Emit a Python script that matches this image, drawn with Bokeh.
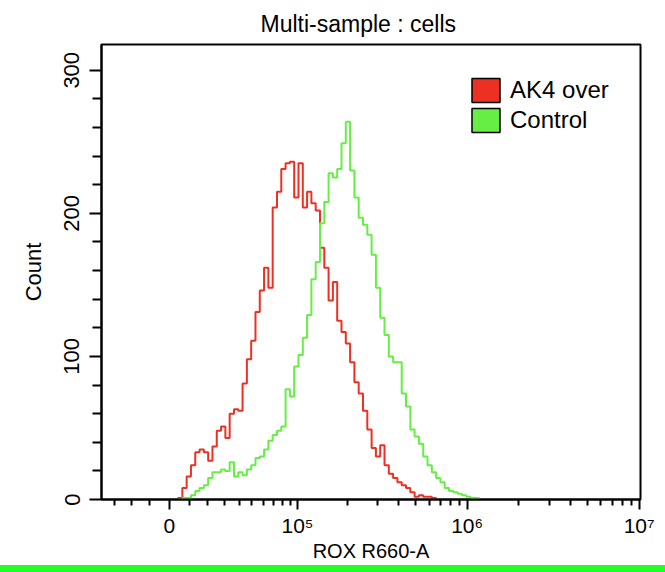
import numpy as np
from bokeh.plotting import figure
from bokeh.layouts import column
from bokeh.models import Range1d, FixedTicker, Legend, LegendItem, Title
from bokeh.embed import file_html
from bokeh.resources import INLINE

# ---------------- data ----------------
title_text = "Multi-sample : cells"
x_label_text = "ROX R660-A"
y_label_text = "Count"
series_names = ["AK4 over", "Control"]
series_colors = ["#ec3024", "#66ee44"]

# histogram bins, evenly spaced in the biexponential display scale
bin_start = 0.05
bin_width = 0.025
ak4_counts = [1, 8, 16, 24, 33, 35, 33, 27, 37, 48, 51, 43, 60, 63, 62, 81, 98, 111, 131, 146,
              162, 148, 204, 215, 231, 235, 236, 211, 235, 204, 215, 207, 202, 176, 162, 139, 152, 125, 117, 109,
              96, 82, 74, 62, 49, 36, 30, 38, 24, 18, 15, 12, 10, 8, 5, 2, 3, 2, 2, 1]
control_counts = [0, 1, 1, 3, 6, 8, 10, 15, 19, 19, 21, 20, 26, 16, 19, 17, 21, 24, 29, 30,
                  35, 41, 45, 48, 51, 77, 72, 93, 101, 113, 129, 154, 166, 193, 208, 228, 225, 231, 249, 264,
                  230, 211, 197, 192, 185, 171, 148, 127, 115, 100, 96, 96, 74, 65, 49, 44, 39, 30, 24, 19,
                  15, 12, 8, 6, 5, 4, 3, 2, 1, 1]

x_major_values = [0, 1e5, 1e6, 1e7]
x_major_labels = ["0", "10\u2075", "10\u2076", "10\u2077"]
x_minor_values = ([-k * 1e4 for k in range(1, 4)] + [k * 1e4 for k in range(1, 10)]
                  + [k * 1e5 for k in range(2, 10)] + [k * 1e6 for k in range(2, 10)])
y_major_values = [0, 100, 200, 300]
y_minor_values = [v for v in range(20, 320, 20) if v % 100 != 0]

x_limits = (-0.395, 2.738)
y_limits = (0, 318)

WIDTH_BASIS = 18615.0


def biex(v):
    return float(np.round(np.arcsinh(np.asarray(v) / (2 * WIDTH_BASIS)) / np.log(10), 6))


def step_xy(counts):
    edges = bin_start + bin_width * np.arange(len(counts) + 1)
    xs = np.concatenate([[edges[0]], edges])
    ys = np.concatenate([[0], counts, [0]])
    return xs, ys


FONT = "Liberation Sans"

p = figure(width=665, height=565, output_backend="svg", toolbar_location=None,
           x_range=Range1d(*x_limits), y_range=Range1d(*y_limits),
           min_border_left=101, min_border_right=25, min_border_top=40, min_border_bottom=66)
p.background_fill_color = "white"
p.border_fill_color = "white"
p.outline_line_color = "black"
p.outline_line_width = 2
p.xgrid.visible = False
p.ygrid.visible = False

# curves
for counts, color in zip([ak4_counts, control_counts], series_colors):
    xs, ys = step_xy(counts)
    p.step(xs, ys, mode="after", line_color=color, line_width=2)

# legend swatches (dummy, invisible renderers)
legend_items = []
for name, color in zip(series_names, series_colors):
    r = p.quad(left=[np.nan], right=[np.nan], top=[np.nan], bottom=[np.nan], fill_color=color,
               line_color="black", line_width=1.5)
    legend_items.append(LegendItem(label=name, renderers=[r]))

legend = Legend(items=legend_items, location=(367, 364), orientation="vertical",
                glyph_width=35, glyph_height=30, label_height=30, label_standoff=7,
                spacing=0, padding=0, margin=0, border_line_alpha=0,
                background_fill_alpha=0, label_text_font_size="24px",
                label_text_font=FONT, label_text_color="black")
p.add_layout(legend)

# x axis
xt = [biex(v) for v in x_major_values]
p.xaxis.ticker = FixedTicker(ticks=xt, minor_ticks=[biex(v) for v in x_minor_values])
p.xaxis.major_label_overrides = {t: lab for t, lab in zip(xt, x_major_labels)}
p.xaxis.major_tick_out = 10
p.xaxis.major_tick_in = 0
p.xaxis.minor_tick_out = 6
p.xaxis.minor_tick_in = 0
p.xaxis.major_label_standoff = 4
p.xaxis.major_label_text_font_size = "21px"
p.xaxis.axis_label = x_label_text
p.xaxis.axis_label_standoff = 0
p.xaxis.axis_label_text_font_size = "20px"

# y axis
p.yaxis.ticker = FixedTicker(ticks=y_major_values, minor_ticks=y_minor_values)
p.yaxis.major_tick_out = 12
p.yaxis.major_tick_in = 0
p.yaxis.minor_tick_out = 9
p.yaxis.minor_tick_in = 0
p.yaxis.major_label_orientation = "vertical"
p.yaxis.major_label_standoff = 10
p.yaxis.major_label_text_font_size = "22px"
p.yaxis.axis_label = y_label_text
p.yaxis.axis_label_standoff = 16
p.yaxis.axis_label_text_font_size = "22px"

for ax in [p.xaxis, p.yaxis]:
    ax.axis_line_width = 2
    ax.axis_line_color = "black"
    ax.major_tick_line_width = 2
    ax.minor_tick_line_width = 2
    ax.major_tick_line_color = "black"
    ax.minor_tick_line_color = "black"
    ax.major_label_text_font = FONT
    ax.major_label_text_color = "black"
    ax.axis_label_text_font = FONT
    ax.axis_label_text_font_style = "normal"
    ax.axis_label_text_color = "black"

# title
p.add_layout(Title(text=title_text, align="left", offset=159, standoff=16,
                   text_font=FONT, text_font_size="23px", text_font_style="normal",
                   text_color="black"), "above")

# the page's bright green strip along the bottom edge comes from the layout background
layout = column(p, spacing=0, width=665, height=572,
                styles={"background": "linear-gradient(to top, #22ff22 0px, #22ff22 7px, #ffffff 7px, #ffffff 100%)"})
open("out.html", "w").write(file_html(layout, INLINE))
